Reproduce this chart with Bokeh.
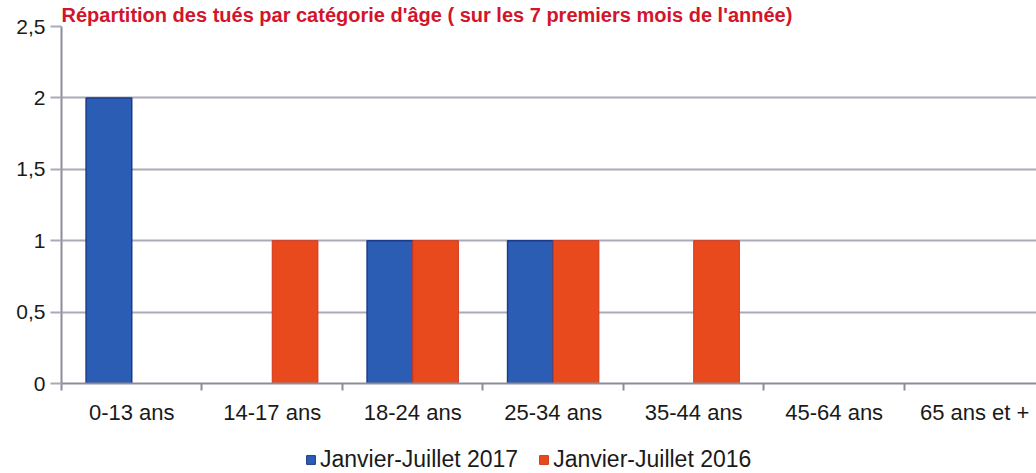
from bokeh.plotting import figure
from bokeh.models import (Range1d, FixedTicker, Legend, LegendItem, ColumnDataSource)
from bokeh.layouts import column
from bokeh.embed import file_html
from bokeh.resources import INLINE

categories = ["0-13 ans", "14-17 ans", "18-24 ans", "25-34 ans", "35-44 ans", "45-64 ans", "65 ans et +"]
values_2017 = [2, 0, 1, 1, 0, 0, 0]
values_2016 = [0, 1, 1, 1, 1, 0, 0]
series_names = ["Janvier-Juillet 2017", "Janvier-Juillet 2016"]
y_ticks = [0, 0.5, 1, 1.5, 2, 2.5]
y_tick_labels = ["0", "0,5", "1", "1,5", "2", "2,5"]
title_text = "Répartition des tués par catégorie d'âge ( sur les 7 premiers mois de l'année)"

BLUE = "#2b5db5"
BLUE_EDGE = "#1b3a8a"
ORANGE = "#e94a1d"
ORANGE_EDGE = "#d2361a"
GRID = "#aaaab8"
AXIS = "#8c8c9c"
FONT = "Liberation Sans"

n = len(categories)
bar_w = 0.325
off = bar_w / 2

W = 1036
H_MAIN = 431
H_LEG = 42

p = figure(width=W, height=H_MAIN, output_backend="svg", toolbar_location=None,
           x_range=Range1d(0, 6.94), y_range=Range1d(0, 2.5),
           min_border_left=61, min_border_right=0, min_border_top=25, min_border_bottom=48)
p.outline_line_color = None
p.background_fill_color = "white"

p.title.text = title_text
p.title.text_font = FONT
p.title.text_font_style = "bold"
p.title.text_font_size = "20px"
p.title.text_color = "#d3142a"
p.title.align = "left"
p.title.offset = 0
p.title.standoff = 2

def build(vals, shift):
    xs, tops = [], []
    for i, v in enumerate(vals):
        if v > 0:
            xs.append(i + 0.5 + shift)
            tops.append(v)
    return ColumnDataSource(dict(x=xs, top=tops))

src17 = build(values_2017, -off)
src16 = build(values_2016, off)

r17 = p.vbar(x="x", top="top", width=bar_w, source=src17,
             fill_color=BLUE, line_color=BLUE_EDGE, line_width=1.5)
r16 = p.vbar(x="x", top="top", width=bar_w, source=src16,
             fill_color=ORANGE, line_color=ORANGE_EDGE, line_width=1)

# x axis: labels at centres, tick marks at category boundaries
centers = [i + 0.5 for i in range(n)]
bounds = [float(i) for i in range(n + 1)]
xa = p.xaxis[0]
xa.ticker = FixedTicker(ticks=centers, minor_ticks=bounds)
xa.major_label_overrides = {c: lab for c, lab in zip(centers, categories)}
xa.major_tick_line_color = None
xa.minor_tick_line_color = AXIS
xa.minor_tick_line_width = 2
xa.minor_tick_out = 7
xa.minor_tick_in = 0
xa.axis_line_color = AXIS
xa.axis_line_width = 2
xa.major_label_text_font = FONT
xa.major_label_text_font_size = "22px"
xa.major_label_text_color = "#1a1a1a"
xa.major_label_standoff = 9

ya = p.yaxis[0]
ya.ticker = FixedTicker(ticks=y_ticks, minor_ticks=[])
ya.major_label_overrides = {t: lab for t, lab in zip(y_ticks, y_tick_labels)}
ya.major_tick_line_color = GRID
ya.major_tick_line_width = 2
ya.major_tick_out = 11
ya.major_tick_in = 0
ya.axis_line_color = AXIS
ya.axis_line_width = 2
ya.major_label_text_font = FONT
ya.major_label_text_font_size = "21px"
ya.major_label_text_color = "#1a1a1a"
ya.major_label_standoff = 5

p.xgrid.grid_line_color = None
p.ygrid.ticker = FixedTicker(ticks=y_ticks)
p.ygrid.grid_line_color = GRID
p.ygrid.grid_line_width = 2

# legend strip underneath the chart (its bars lie far outside its visible ranges)
pl = figure(width=W, height=H_LEG, output_backend="svg", toolbar_location=None,
            x_axis_type=None, y_axis_type=None,
            x_range=Range1d(100, 101), y_range=Range1d(100, 101),
            min_border=0)
pl.outline_line_color = None
pl.xgrid.visible = False
pl.ygrid.visible = False
l17 = pl.vbar(x="x", top="top", width=bar_w, source=src17,
              fill_color=BLUE, line_color=BLUE_EDGE, line_width=1)
l16 = pl.vbar(x="x", top="top", width=bar_w, source=src16,
              fill_color=ORANGE, line_color=ORANGE_EDGE, line_width=1)
legend = Legend(items=[LegendItem(label=series_names[0], renderers=[l17]),
                       LegendItem(label=series_names[1], renderers=[l16])],
                orientation="horizontal", location=(244, 0),
                label_text_font=FONT, label_text_font_size="23px", label_text_color="#1a1a1a",
                glyph_width=11, glyph_height=11, label_standoff=4, spacing=20,
                padding=0, margin=0, border_line_color=None, background_fill_alpha=0)
pl.add_layout(legend, "center")

open("out.html", "w").write(file_html(column(p, pl, spacing=0), INLINE))
